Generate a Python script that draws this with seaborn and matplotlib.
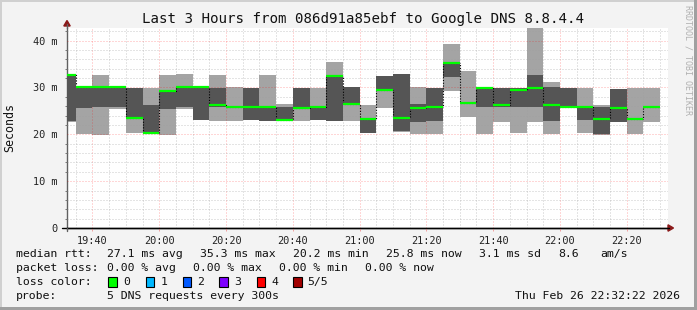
import numpy as np
import pandas as pd
import matplotlib
matplotlib.use("Agg")
import matplotlib.pyplot as plt
import matplotlib.dates as mdates
from matplotlib.patches import Polygon, Rectangle
from matplotlib.lines import Line2D
import seaborn as sns

# ---------------- data (ms) ----------------
bin_starts = ["19:32:22"] + [t.strftime("%H:%M:%S") for t in pd.date_range("2026-02-26 19:35", "2026-02-26 22:25", freq="5min")]
bin_ends = [t.strftime("%H:%M:%S") for t in pd.date_range("2026-02-26 19:35", "2026-02-26 22:30", freq="5min")]

ping_min = [22.7, 20.1, 19.9, 25.5, 20.3, 20.0, 19.9, 25.4, 23.1, 22.8,
            22.9, 23.0, 22.8, 23.0, 22.8, 23.0, 22.8, 22.9, 20.2, 25.6,
            20.5, 20.0, 20.0, 29.3, 23.6, 20.0, 22.7, 20.2, 22.7, 20.0,
            25.8, 20.3, 19.9, 22.7, 20.0, 22.7]
ping_lo = [22.9, 25.6, 25.8, 25.8, 23.3, 20.1, 25.5, 25.8, 23.1, 25.9,
           25.8, 23.0, 22.8, 23.0, 25.5, 23.0, 22.8, 26.2, 20.2, 29.4,
           20.7, 22.7, 22.8, 32.3, 26.6, 25.9, 25.9, 25.9, 25.9, 22.9,
           25.8, 23.0, 20.0, 22.7, 23.1, 25.6]
median = [32.7, 30.1, 30.0, 30.0, 23.5, 20.2, 29.3, 30.0, 30.0, 26.2,
          25.9, 25.9, 25.9, 23.1, 25.6, 25.9, 32.5, 26.5, 23.2, 29.5,
          23.5, 25.7, 25.9, 35.3, 26.7, 29.8, 26.3, 29.5, 29.9, 26.3,
          25.9, 25.9, 23.2, 25.7, 23.2, 25.8]
ping_hi = [32.7, 30.1, 30.0, 30.0, 29.9, 26.2, 29.4, 30.0, 30.0, 29.9,
           26.0, 29.8, 26.0, 25.8, 29.8, 26.0, 32.6, 30.2, 23.3, 32.4,
           32.9, 26.5, 29.8, 35.3, 26.8, 29.9, 29.9, 29.8, 32.7, 30.1,
           29.9, 26.0, 25.9, 29.7, 23.4, 25.8]
ping_max = [32.8, 30.1, 32.6, 30.0, 29.9, 29.9, 32.6, 32.9, 30.0, 32.6,
            30.1, 29.8, 32.6, 26.4, 29.8, 29.9, 35.4, 30.2, 26.2, 32.5,
            32.9, 30.1, 29.8, 39.3, 33.5, 30.1, 29.9, 29.8, 43.5, 31.2,
            29.9, 29.9, 26.2, 29.7, 29.9, 29.9]

x_tick_labels = ["19:40", "20:00", "20:20", "20:40", "21:00", "21:20", "21:40", "22:00", "22:20"]
y_tick_values = [0, 10, 20, 30, 40]
y_tick_labels = ["0", "10 m", "20 m", "30 m", "40 m"]

title = "Last 3 Hours from 086d91a85ebf to Google DNS 8.8.4.4"
loss_labels = ["0", "1", "2", "3", "4", "5/5"]
loss_colors = ["#00ff00", "#00b8ff", "#0059ff", "#7e00ff", "#ff0000", "#a10000"]

# ---------------- style ----------------
sns.set_theme(style="white")
plt.rcParams['font.family'] = ['DejaVu Sans Mono', 'DejaVu Sans']

W, H = 697, 310
def fx(px): return px / W
def fy(py): return 1 - py / H

DAY = "2026-02-26 "
to_num = lambda s: mdates.date2num(pd.Timestamp(DAY + s))
xs = np.array([to_num(s) for s in bin_starts])
xe = np.array([to_num(s) for s in bin_ends])
widths = xe - xs
pmin, plo, pmed, phi, pmax = map(np.array, (ping_min, ping_lo, median, ping_hi, ping_max))

fig = plt.figure(figsize=(W / 100, H / 100), dpi=100, facecolor="#f3f3f3")
ax = fig.add_axes([fx(67), fy(228), fx(668) - fx(67), fy(28) - fy(228)])
ax.set_facecolor("white")
ax.xaxis_date()

LIGHT = "#a4a4a4"
DARK = "#555555"
ax.bar(xs, pmax - pmin, width=widths, bottom=pmin, align="edge", color=LIGHT, lw=0, zorder=2)
ax.bar(xs, phi - plo, width=widths, bottom=plo, align="edge", color=DARK, lw=0, zorder=3)

# median step connector (dotted black) and green median segments
step_x = np.append(xs, xe[-1])
step_y = np.append(pmed, pmed[-1])
sns.lineplot(x=step_x, y=step_y, ax=ax, drawstyle="steps-post", color="black",
             lw=0.8, ls=(0, (1, 1.5)), zorder=5, sort=False, estimator=None)
ax.hlines(pmed, xs, xe, colors="#00ff00", lw=1.6, zorder=6)

ax.set_xlim(to_num("19:32:22"), to_num("22:32:22"))
ax.set_ylim(0, 42.7)

ax.xaxis.set_major_locator(mdates.MinuteLocator(byminute=[0, 20, 40]))
ax.xaxis.set_minor_locator(mdates.MinuteLocator(byminute=range(0, 60, 5)))
ax.xaxis.set_major_formatter(mdates.DateFormatter("%H:%M"))
ax.set_yticks(y_tick_values)
ax.set_yticklabels(y_tick_labels)
ax.set_yticks(np.arange(0, 43, 2), minor=True)

ax.grid(which="minor", color="#a0a0a0", alpha=0.55, lw=0.72, ls=(0, (1, 2)), zorder=4)
ax.grid(which="major", color="#ff0000", alpha=0.32, lw=0.72, ls=(0, (1, 2)), zorder=4)
ax.set_axisbelow(False)

ax.tick_params(axis="both", which="major", labelsize=7.4, labelcolor="#222222", length=2.5,
               width=0.7, direction="out", pad=3)
ax.tick_params(axis="y", which="major", colors="#444444", labelcolor="#222222", pad=4)
ax.tick_params(axis="y", which="minor", length=1.5, width=0.6, direction="out", colors="#666666", left=True)
ax.tick_params(axis="x", which="major", colors="#f0a0a0", labelcolor="#222222", length=2.5, bottom=True)
ax.tick_params(axis="x", which="minor", length=0, bottom=False)

for s in ("top", "right"):
    ax.spines[s].set_visible(False)
ax.spines["left"].set_color("#606060")
ax.spines["left"].set_linewidth(1.0)
ax.spines["bottom"].set_color("black")
ax.spines["bottom"].set_linewidth(1.0)
ax.set_xlabel("")
ax.set_ylabel("")

# axis extensions & arrows
fig.add_artist(Line2D([fx(67), fx(67)], [fy(28), fy(24)], color="#606060", lw=1.0))
fig.add_artist(Line2D([fx(61.5), fx(669)], [fy(228), fy(228)], color="black", lw=1.0))
fig.add_artist(Line2D([fx(67), fx(67)], [fy(228), fy(231)], color="#606060", lw=1.0))
fig.add_artist(Polygon([[fx(67), fy(20.5)], [fx(63.8), fy(26)], [fx(70.2), fy(26)]],
                       closed=True, color="#8b1a1a", transform=fig.transFigure))
fig.add_artist(Polygon([[fx(673.5), fy(228)], [fx(668), fy(224.8)], [fx(668), fy(231.2)]],
                       closed=True, color="#8b1a1a", transform=fig.transFigure))

# frame
fig.add_artist(Rectangle((0, fy(2)), 1, fy(0) - fy(2), transform=fig.transFigure, color="#d0d0d0", lw=0))
fig.add_artist(Rectangle((0, 0), fx(2), 1, transform=fig.transFigure, color="#d0d0d0", lw=0))
fig.add_artist(Rectangle((fx(694), 0), fx(3), 1, transform=fig.transFigure, color="#a0a0a0", lw=0))
fig.add_artist(Rectangle((0, 0), 1, fy(307), transform=fig.transFigure, color="#a0a0a0", lw=0))

# texts
fig.text(fx(362.5), fy(19), title, ha="center", va="center", fontsize=10.2, color="#111111")
fig.text(fx(10), fy(127.5), "Seconds", rotation=90, ha="center", va="center", fontsize=8.4, color="#111111")
fig.text(fx(688), fy(5), "RRDTOOL / TOBI OETIKER", rotation=270, ha="center", va="top",
         fontsize=6.0, color="#b0b0b0")

LS = 8.25
def lt(x, y, s, **kw):
    fig.text(fx(x), fy(y), s, ha="left", va="center", fontsize=LS, color="#111111", **kw)

rtt_avg = round(float(np.mean(pmed)), 1)
lt(16, 254, "median rtt:")
lt(107.3, 254, f"{rtt_avg:.1f} ms avg")
lt(200, 254, f"{pmed.max():.1f} ms max")
lt(293.3, 254, "20.2 ms min")
lt(386, 254, f"{pmed[-1]:.1f} ms now")
lt(479, 254, "3.1 ms sd")
lt(558.3, 254, "8.6")
lt(600, 254, "am/s")

lt(16, 268.3, "packet loss:")
lt(107.3, 268.3, "0.00 % avg")
lt(193.3, 268.3, "0.00 % max")
lt(279.3, 268.3, "0.00 % min")
lt(365, 268.3, "0.00 % now")

lt(16, 282.3, "loss color:")
box_x = [108.3, 145.7, 182.7, 219.3, 256.7, 293.3]
lab_x = [123.3, 160.7, 197.3, 234.3, 271.0, 307.7]
for bx, lx, lab, col in zip(box_x, lab_x, loss_labels, loss_colors):
    fig.add_artist(Rectangle((fx(bx), fy(287)), fx(8.5), fy(277) - fy(287), transform=fig.transFigure,
                             facecolor=col, edgecolor="black", lw=0.8))
    lt(lx, 282.3, lab)

lt(16, 296, "probe:")
lt(107.3, 296, "5 DNS requests every 300s")
fig.text(fx(680), fy(296), "Thu Feb 26 22:32:22 2026", ha="right", va="center", fontsize=LS, color="#111111")

fig.savefig("out.png", dpi=100, facecolor=fig.get_facecolor())
